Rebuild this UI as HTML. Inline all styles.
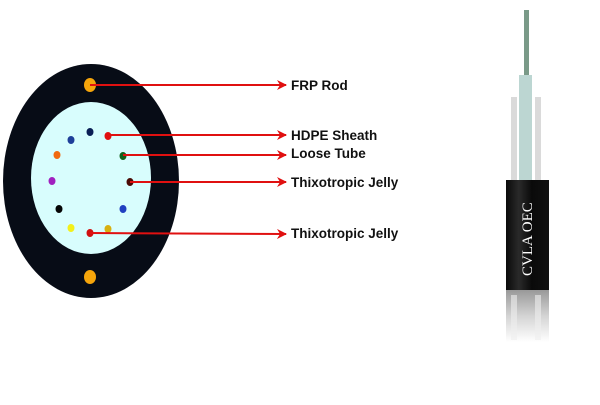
<!DOCTYPE html>
<html><head><style>body{margin:0;background:#fff}</style></head><body>
<svg width="600" height="400" xmlns="http://www.w3.org/2000/svg">
<defs>
<marker id="a" markerWidth="10" markerHeight="10" refX="9" refY="5" orient="auto" markerUnits="userSpaceOnUse"><path d="M0,0 L10,5 L0,10 L3,5 Z" fill="#e01010"/></marker>
<linearGradient id="r" x1="0" y1="0" x2="0" y2="1"><stop offset="0" stop-color="#999"/><stop offset="0.5" stop-color="#d4d4d4"/><stop offset="1" stop-color="#fff"/></linearGradient>
<linearGradient id="s" x1="0" y1="0" x2="1" y2="0"><stop offset="0" stop-color="#0a0a0a"/><stop offset="0.3" stop-color="#2a2a2a"/><stop offset="0.6" stop-color="#0a0a0a"/><stop offset="1" stop-color="#111"/></linearGradient>
</defs>
<ellipse cx="91" cy="181" rx="88" ry="117" fill="#070c16"/>
<ellipse cx="91" cy="178" rx="60" ry="76" fill="#d8fdfd"/>
<ellipse cx="90" cy="85" rx="6" ry="7" fill="#f5a50b"/>
<ellipse cx="90" cy="277" rx="6" ry="7" fill="#f5a50b"/>
<g>
<ellipse cx="90" cy="132" rx="3.5" ry="4" fill="#0a1f55"/>
<ellipse cx="108" cy="136" rx="3.5" ry="4" fill="#e01010"/>
<ellipse cx="71" cy="140" rx="3.5" ry="4" fill="#1e3f99"/>
<ellipse cx="57" cy="155" rx="3.5" ry="4" fill="#f06a10"/>
<ellipse cx="123" cy="156" rx="3.5" ry="4" fill="#11601a"/>
<ellipse cx="52" cy="181" rx="3.5" ry="4" fill="#a020c0"/>
<ellipse cx="130" cy="182" rx="3.5" ry="4" fill="#4a0a05"/>
<ellipse cx="59" cy="209" rx="3.5" ry="4" fill="#050505"/>
<ellipse cx="123" cy="209" rx="3.5" ry="4" fill="#2040c0"/>
<ellipse cx="71" cy="228" rx="3.5" ry="4" fill="#f3f01a"/>
<ellipse cx="108" cy="229" rx="3.5" ry="4" fill="#d8b010"/>
<ellipse cx="90" cy="233" rx="3.5" ry="4" fill="#d01010"/>
</g>
<g stroke="#e01010" stroke-width="2" marker-end="url(#a)">
<line x1="90" y1="85" x2="286" y2="85"/>
<line x1="108" y1="135" x2="286" y2="135"/>
<line x1="123" y1="155" x2="286" y2="155"/>
<line x1="130" y1="182" x2="286" y2="182"/>
<line x1="90" y1="233" x2="286" y2="234"/>
</g>
<g font-family="Liberation Sans, sans-serif" font-weight="bold" font-size="13.5" fill="#111">
<text x="291" y="90">FRP Rod</text>
<text x="291" y="140">HDPE Sheath</text>
<text x="291" y="158">Loose Tube</text>
<text x="291" y="187">Thixotropic Jelly</text>
<text x="291" y="238">Thixotropic Jelly</text>
</g>
<rect x="524" y="10" width="5" height="68" fill="#7a9a88"/>
<rect x="519" y="75" width="13" height="108" fill="#bcd6d2"/>
<rect x="511" y="97" width="6" height="86" fill="#dadada"/>
<rect x="535" y="97" width="6" height="86" fill="#dadada"/>
<rect x="506" y="180" width="43" height="110" fill="url(#s)"/>
<text transform="translate(532,276) rotate(-90)" font-family="Liberation Serif, serif" font-size="15" fill="#fff">CVLA OEC</text>
<rect x="506" y="290" width="43" height="52" fill="url(#r)"/>
<rect x="511" y="295" width="6" height="45" fill="#eee" opacity="0.6"/>
<rect x="535" y="295" width="6" height="45" fill="#eee" opacity="0.6"/>
</svg>
</body></html>
